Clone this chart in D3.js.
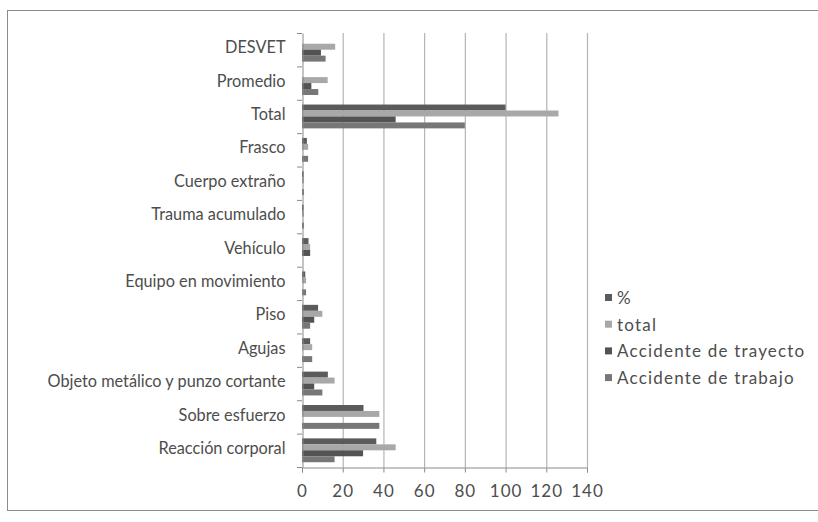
<!DOCTYPE html>
<html>
<head>
<meta charset="utf-8">
<script src="https://cdn.jsdelivr.net/npm/d3@7"></script>
<style>
	body { margin: 0; background: #fff; }
	text { font-family: Lato, "Open Sans", sans-serif; }
</style>
</head>
<body>
<div id="chart"></div>
<script>
// categories, top to bottom as in the picture
var categories = ["DESVET", "Promedio", "Total", "Frasco", "Cuerpo extraño", "Trauma acumulado",
	"Vehículo", "Equipo en movimiento", "Piso", "Agujas",
	"Objeto metálico y punzo cortante", "Sobre esfuerzo", "Reacción corporal"];

var seriesNames = ["%", "total", "Accidente de trayecto", "Accidente de trabajo"];

var pct      = [null, null, 100, 2.4, 0.8, 0.8, 3.2, 1.6, 7.9, 4.0, 12.7, 30.2, 36.5];
var total    = [16.3, 12.6, 126, 3, 1, 1, 4, 2, 10, 5, 16, 38, 46];
var trayecto = [9.3, 4.6, 46, 0, 0, 0, 4, 0, 6, 0, 6, 0, 30];
var trabajo  = [11.6, 8.0, 80, 3, 1, 1, 0, 2, 4, 5, 10, 38, 16];

var xTicks = [0, 20, 40, 60, 80, 100, 120, 140];

var colors = ["#5b5b5b", "#a8a8a8", "#535353", "#777777"];

var width = 818;
var height = 522;

var svg = d3.select("#chart")
	.append("svg")
	.attr("width", width)
	.attr("height", height);

// chart frame (right side runs off the picture)
svg.append("rect")
	.attr("x", 7.5)
	.attr("y", 10.5)
	.attr("width", 820)
	.attr("height", 500)
	.attr("fill", "#fff")
	.attr("stroke", "#8c8c8c");

var plotLeft = 302, plotRight = 587, plotTop = 33, plotBottom = 467;

var x = d3.scaleLinear().domain([0, 140]).range([plotLeft, plotRight]);
var y = d3.scaleBand().domain(categories).range([plotTop, plotBottom]);
var inner = d3.scaleBand().domain(seriesNames).range([0, y.bandwidth()]).paddingOuter(0.8);

var data = [pct, total, trayecto, trabajo];

// gridlines
svg.append("g")
	.selectAll("line")
	.data(xTicks.slice(1))
	.enter()
	.append("line")
	.attr("x1", function(d) { return x(d) + 0.5; })
	.attr("x2", function(d) { return x(d) + 0.5; })
	.attr("y1", plotTop)
	.attr("y2", plotBottom)
	.attr("stroke", "#b4b4b4")
	.attr("stroke-width", 1.2);

// bars
var bars = svg.append("g");
data.forEach(function(values, s) {
	bars.append("g")
		.selectAll("rect")
		.data(categories.map(function(c, i) { return {cat: c, v: values[i]}; })
			.filter(function(d) { return d.v != null && d.v > 0; }))
		.enter()
		.append("rect")
		.attr("x", x(0))
		.attr("y", function(d) { return y(d.cat) + inner(seriesNames[s]); })
		.attr("width", function(d) { return x(d.v) - x(0); })
		.attr("height", inner.bandwidth())
		.attr("fill", colors[s]);
});

// bottom axis
var xAxis = svg.append("g")
	.attr("transform", "translate(0," + (plotBottom + 0.5) + ")")
	.call(d3.axisBottom(x).tickValues(xTicks).tickSize(5).tickPadding(12));
xAxis.select(".domain").attr("stroke", "#8a8a8a");
xAxis.selectAll(".tick line").attr("stroke", "#8a8a8a");
xAxis.selectAll("text")
	.attr("font-size", "17px")
	.attr("fill", "#4d4d4d")
	.style("letter-spacing", "1px")
	.style("font-family", "Lato, sans-serif");

// left axis
var yAxis = svg.append("g")
	.attr("transform", "translate(" + (plotLeft + 0.5) + ",0)")
	.call(d3.axisLeft(y).tickSize(0).tickPadding(17));
yAxis.select(".domain").attr("stroke", "#8a8a8a");
yAxis.selectAll("text")
	.attr("font-size", "16.3px")
	.attr("fill", "#4d4d4d")
	.attr("dy", "0.22em")
	.style("font-family", "Lato, sans-serif");

// category boundary ticks
svg.append("g")
	.selectAll("line")
	.data(categories.concat([null]))
	.enter()
	.append("line")
	.attr("x1", plotLeft - 5)
	.attr("x2", plotLeft)
	.attr("y1", function(d, i) { return plotTop + i * y.step() + 0.5; })
	.attr("y2", function(d, i) { return plotTop + i * y.step() + 0.5; })
	.attr("stroke", "#8a8a8a");

// legend
var legend = svg.append("g")
	.attr("transform", "translate(605,298)");
seriesNames.forEach(function(name, i) {
	var row = legend.append("g").attr("transform", "translate(0," + (i * 26.7) + ")");
	row.append("rect")
		.attr("x", 0)
		.attr("y", -4)
		.attr("width", 7)
		.attr("height", 7)
		.attr("fill", colors[i]);
	row.append("text")
		.attr("x", 12)
		.attr("y", 0)
		.attr("dy", "0.35em")
		.attr("font-size", "17px")
		.attr("fill", "#4d4d4d")
		.style("letter-spacing", "1.2px")
		.text(name);
});
</script>
</body>
</html>
